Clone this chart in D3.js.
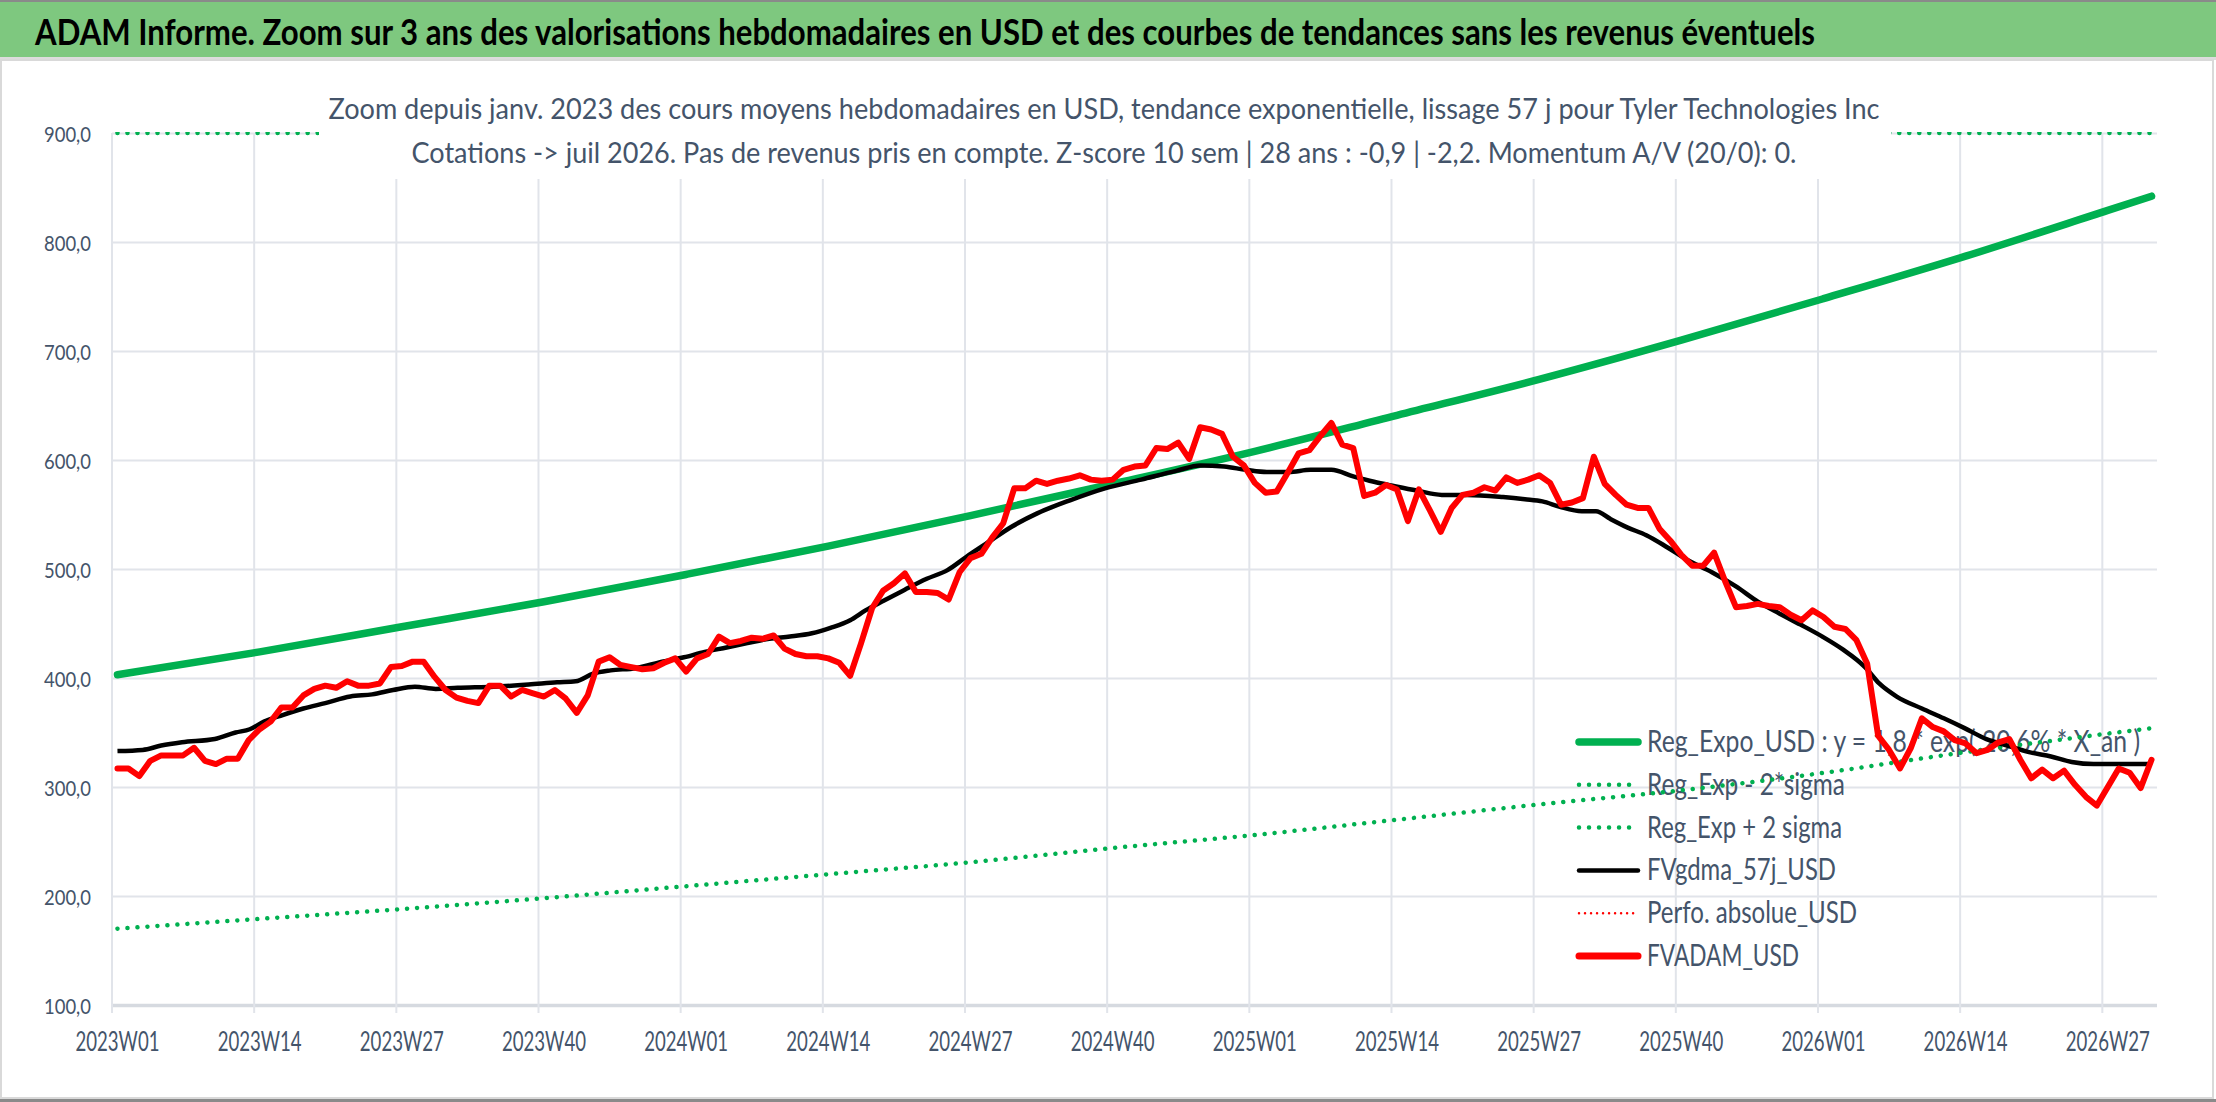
<!DOCTYPE html>
<html>
<head>
<meta charset="utf-8">
<script src="https://cdn.jsdelivr.net/npm/d3@7"></script>
<style>
  body { margin: 0; background: #fff; }
  text { font-family: Lato, "Open Sans", sans-serif; }
</style>
</head>
<body>
<div id="chart-container"></div>
<script>
// weekly categories
const years = [2023, 2024, 2025, 2026];
const weeksInYear = [52, 52, 52, 31];

const tickLabels = ["2023W01", "2023W14", "2023W27", "2023W40", "2024W01", "2024W14", "2024W27",
  "2024W40", "2025W01", "2025W14", "2025W27", "2025W40", "2026W01", "2026W14", "2026W27"];

const yTicks = [100, 200, 300, 400, 500, 600, 700, 800, 900];

// FVADAM_USD, one value per week
const fvadamUSD = [
  317, 317, 310, 324, 329, 329, 329, 336, 324, 321,
  326, 326, 343, 353, 360, 373, 373, 384, 390, 393,
  391, 397, 393, 393, 395, 410, 411, 415, 415, 401,
  389, 382, 379, 377, 393, 393, 383, 389, 386, 383,
  389, 381, 368, 384, 415, 419, 412, 410, 408, 409,
  414, 418, 406, 418, 422, 438, 432, 434, 437, 436,
  439, 427, 422, 420, 420, 418, 414, 402, 432, 464,
  480, 487, 496, 479, 479, 478, 472, 497, 510, 514,
  529, 542, 574, 574, 581, 578, 581, 583, 586, 582,
  581, 582, 591, 594, 595, 611, 610, 616, 601, 630,
  628, 624, 603, 595, 579, 570, 571, 588, 606, 609,
  622, 634, 614, 611, 567, 570, 577, 573, 544, 573,
  554, 534, 556, 568, 570, 575, 572, 584, 579, 582,
  586, 579, 559, 561, 565, 603, 578, 568, 559, 556,
  556, 537, 526, 513, 503, 503, 515, 489, 465, 466,
  468, 466, 465, 458, 453, 462, 456, 447, 445, 435,
  413, 347, 334, 317, 336, 363, 355, 351, 343, 340,
  331, 334, 341, 344, 325, 308, 316, 308, 315, 302,
  291, 283, 300, 317, 313, 299, 325
];

// FVgdma_57j_USD, read at these week positions
const gdmaWeek = [0, 2.3, 4, 5.9, 8.9, 10.8, 12.1, 13.4, 15.1, 17, 19, 21.3, 23.3, 25.2, 27.2, 29.1,
  31.1, 34.4, 37.6, 40.2, 41.9, 43.5, 45.1, 47.4, 49.8, 51.8, 53.7, 55.7, 57.6, 59.6, 61.5, 63.5,
  65.2, 67, 68.4, 70.1, 72, 74, 75.9, 77.6, 79.4, 81.8, 84.1, 87.1, 90.3, 93.6, 96.8, 99, 101.2,
  103.2, 105.1, 107.1, 109.1, 111, 113, 114.9, 116.8, 118.8, 121.1, 123.4, 126.7, 128.7, 130.3,
  131.9, 133.9, 135.2, 136.5, 138.1, 139.8, 141.7, 143.6, 145.8, 148, 150, 152, 153.9, 155.9,
  157.8, 159.8, 161.1, 162.7, 165, 167, 168.9, 170.9, 172.8, 174.8, 176.8, 178.7, 180.7, 183, 186];
const gdmaUSD = [333, 334, 338, 341, 344, 350, 353, 360, 366, 372, 377, 383, 385, 389, 392, 390,
  391, 392, 394, 396, 397, 404, 407, 409, 415, 419, 424, 428, 432, 436, 438, 441,
  446, 453, 462, 471, 481, 491, 499, 511, 523, 539, 551, 563, 574, 582, 590, 595, 594,
  591, 589, 589, 591, 591, 585, 580, 576, 572, 568, 568, 566, 564, 562,
  557, 553, 553, 546, 538, 531, 520, 508, 497, 484, 470, 459, 449, 438,
  426, 410, 395, 383, 372, 363, 354, 344, 338, 332, 328, 323, 321, 321, 321];

// exponential trend and bands, read every 13 weeks
const trendWeek = [0, 13, 26, 39, 52, 65, 78, 91, 104, 117, 130, 143, 156, 169, 182, 186];
const regExpoUSD = [403, 424, 447, 470, 495, 521, 549, 578, 608, 641, 674, 710, 748, 787, 829, 842];
const regMinus2Sigma = [170, 179, 188, 198, 209, 220, 231, 244, 256, 270, 284, 297, 313, 332, 349, 354];
const regPlus2Sigma = [957, 1007, 1062, 1116, 1176, 1237, 1304, 1373, 1444, 1522, 1601, 1686, 1777, 1869, 1969, 2000];

const legendLabels = ["Reg_Expo_USD : y = 1,8 * exp( 20,6% * X_an )", "Reg_Exp - 2*sigma",
  "Reg_Exp + 2 sigma", "FVgdma_57j_USD", "Perfo. absolue_USD", "FVADAM_USD"];

const titleText = "ADAM Informe. Zoom sur 3 ans des valorisations hebdomadaires en USD et des courbes de tendances sans les revenus éventuels";
const subtitleLines = [
  "Zoom depuis janv. 2023 des cours moyens hebdomadaires en USD, tendance exponentielle, lissage 57 j pour Tyler Technologies Inc",
  "Cotations -> juil 2026. Pas de revenus pris en compte. Z-score 10 sem | 28 ans : -0,9 | -2,2. Momentum A/V (20/0): 0."
];

const categories = [];
years.forEach((yr, k) => {
  for (let w = 1; w <= weeksInYear[k]; w++) categories.push(yr + "W" + String(w).padStart(2, "0"));
});

const W = 2216, H = 1102;
const plot = { left: 112, right: 2157, top: 133, bottom: 1005 };
const textColor = "#44546A";
const green = "#00B050";

const svg = d3.select("#chart-container")
  .append("svg")
    .attr("width", W)
    .attr("height", H);

// frame and header
svg.append("rect").attr("width", W).attr("height", H).attr("fill", "#fff");
svg.append("rect").attr("x", 0).attr("y", 0).attr("width", W).attr("height", 57).attr("fill", "#7EC87F");
svg.append("rect").attr("x", 0).attr("y", 0).attr("width", W).attr("height", 2).attr("fill", "#8a8a8a");
svg.append("rect").attr("x", 0).attr("y", 57).attr("width", W).attr("height", 3).attr("fill", "#dcdcdc");
svg.append("rect").attr("x", 1).attr("y", 60).attr("width", W - 4).attr("height", H - 64)
  .attr("fill", "none").attr("stroke", "#d9d9d9").attr("stroke-width", 2);
svg.append("rect").attr("x", 0).attr("y", H - 3).attr("width", W).attr("height", 3).attr("fill", "#8a8a8a");

svg.append("text")
  .attr("x", 35).attr("y", 45)
  .attr("font-size", 37).attr("font-weight", "bold").attr("fill", "#000")
  .attr("textLength", 1780).attr("lengthAdjust", "spacingAndGlyphs")
  .text(titleText);

// scales
const x = d3.scaleBand().domain(categories).range([plot.left, plot.right]);
const xw = d3.scaleLinear().domain([0, categories.length]).range([plot.left, plot.right]);
const xc = i => xw(i + 0.5);
const y = d3.scaleLinear().domain([100, 900]).range([plot.bottom, plot.top]).clamp(true);

// horizontal grid + y labels
const yAxis = svg.append("g")
  .attr("transform", `translate(${plot.left},0)`)
  .call(d3.axisLeft(y)
    .tickValues(yTicks)
    .tickSize(-(plot.right - plot.left))
    .tickPadding(21)
    .tickFormat(d => d3.format(".1f")(d).replace(".", ",")));
yAxis.select(".domain").remove();
yAxis.selectAll(".tick line")
  .attr("stroke", d => d === 100 ? "#d6dae0" : "#e1e4ea")
  .attr("stroke-width", d => d === 100 ? 3.5 : 2);
yAxis.selectAll(".tick text")
  .attr("font-size", 22).attr("fill", textColor).attr("dy", "0.4em")
  .attr("textLength", 47).attr("lengthAdjust", "spacingAndGlyphs");

// vertical grid
svg.append("g").selectAll("line")
  .data(tickLabels)
  .join("line")
    .attr("x1", d => x(d)).attr("x2", d => x(d))
    .attr("y1", plot.top).attr("y2", plot.bottom + 8)
    .attr("stroke", "#e1e4ea").attr("stroke-width", 2);

// x labels
const xAxis = svg.append("g")
  .attr("transform", `translate(0,${plot.bottom})`)
  .call(d3.axisBottom(x).tickValues(tickLabels).tickSize(0).tickPadding(0));
xAxis.select(".domain").remove();
xAxis.selectAll(".tick text")
  .attr("y", 46).attr("dy", 0)
  .attr("font-size", 26).attr("fill", textColor)
  .attr("textLength", 84).attr("lengthAdjust", "spacingAndGlyphs");

svg.append("clipPath").attr("id", "plot-clip")
  .append("rect")
    .attr("x", plot.left - 10).attr("y", plot.top - 1)
    .attr("width", plot.right - plot.left + 20).attr("height", plot.bottom - plot.top + 1);

const curve = d3.line().curve(d3.curveMonotoneX);
const trendPts = arr => trendWeek.map((w, k) => [xc(w), y(arr[k])]);

// + 2 sigma band runs along the top edge
svg.append("path")
  .attr("clip-path", "url(#plot-clip)")
  .attr("d", curve(trendPts(regPlus2Sigma)))
  .attr("fill", "none").attr("stroke", green).attr("stroke-width", 4.5)
  .attr("stroke-linecap", "round").attr("stroke-dasharray", "0.01 10");

// subtitle box
svg.append("rect").attr("x", 319).attr("y", 68).attr("width", 1572).attr("height", 111).attr("fill", "#fff");
svg.append("g").selectAll("text")
  .data(subtitleLines)
  .join("text")
    .attr("x", 1104).attr("y", (d, k) => k === 0 ? 119 : 163)
    .attr("text-anchor", "middle")
    .attr("font-size", 29).attr("fill", textColor)
    .attr("textLength", (d, k) => k === 0 ? 1551 : 1385).attr("lengthAdjust", "spacingAndGlyphs")
    .text(d => d);

// legend
const legendStyles = [
  { stroke: green, width: 7.5, dash: null },
  { stroke: green, width: 4.5, dash: "0.01 10" },
  { stroke: green, width: 4.5, dash: "0.01 10" },
  { stroke: "#000", width: 4.5, dash: null },
  { stroke: "#FF0000", width: 2.5, dash: "0.01 6" },
  { stroke: "#FF0000", width: 7, dash: null }
];
const legendWidths = [493, 198, 195, 189, 210, 152];
const legend = svg.append("g").selectAll("g")
  .data(legendLabels)
  .join("g")
    .attr("transform", (d, k) => `translate(1577,${752 + k * 42.8})`);
legend.append("line")
  .attr("x1", 2).attr("x2", 61).attr("y1", -10).attr("y2", -10)
  .attr("stroke", (d, k) => legendStyles[k].stroke)
  .attr("stroke-width", (d, k) => legendStyles[k].width)
  .attr("stroke-linecap", "round")
  .attr("stroke-dasharray", (d, k) => legendStyles[k].dash);
legend.append("text")
  .attr("x", 70).attr("y", 0)
  .attr("font-size", 30).attr("fill", textColor)
  .attr("textLength", (d, k) => legendWidths[k]).attr("lengthAdjust", "spacingAndGlyphs")
  .text(d => d);

// series
const lines = svg.append("g").attr("clip-path", "url(#plot-clip)");

lines.append("path")
  .attr("d", curve(trendPts(regMinus2Sigma)))
  .attr("fill", "none").attr("stroke", green).attr("stroke-width", 4.5)
  .attr("stroke-linecap", "round").attr("stroke-dasharray", "0.01 10");

lines.append("path")
  .attr("d", curve(trendPts(regExpoUSD)))
  .attr("fill", "none").attr("stroke", green).attr("stroke-width", 7.5)
  .attr("stroke-linecap", "round");

lines.append("path")
  .datum(gdmaWeek.map((w, k) => [w, gdmaUSD[k]]))
  .attr("fill", "none").attr("stroke", "#000").attr("stroke-width", 4.5)
  .attr("stroke-linejoin", "round")
  .attr("d", d3.line().curve(d3.curveMonotoneX).x(d => xc(d[0])).y(d => y(d[1])));

lines.append("path")
  .datum(fvadamUSD)
  .attr("fill", "none").attr("stroke", "#FF0000").attr("stroke-width", 6)
  .attr("stroke-linejoin", "round").attr("stroke-linecap", "round")
  .attr("d", d3.line().x((d, i) => x(categories[i]) + x.bandwidth() / 2).y(d => y(d)));
</script>
</body>
</html>
